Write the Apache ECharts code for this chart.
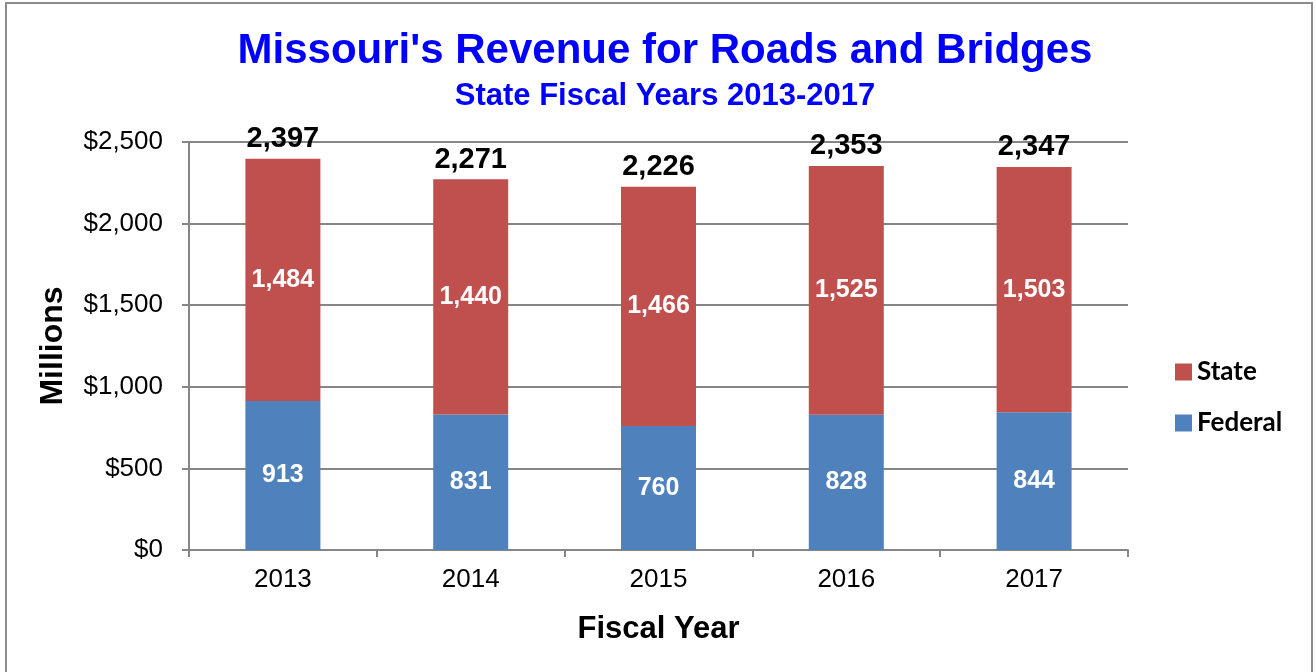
<!DOCTYPE html>
<html>
<head>
<meta charset="utf-8">
<script src="https://cdn.jsdelivr.net/npm/echarts@6/dist/echarts.min.js"></script>
<style>
  html, body { margin: 0; padding: 0; background: #fff; }
  #chart { width: 1316px; height: 672px; }
</style>
</head>
<body>
<div id="chart"></div>
<script>
const years = ['2013', '2014', '2015', '2016', '2017']
const federal = [913, 831, 760, 828, 844]
const state = [1484, 1440, 1466, 1525, 1503]
const totals = [2397, 2271, 2226, 2353, 2347]

const fmt = (val) => val.toLocaleString('en-US')

const chart = echarts.init(document.getElementById('chart'))

const innerLabel = {
  show: true,
  position: 'inside',
  color: '#fff',
  fontFamily: 'Liberation Sans',
  fontWeight: 'bold',
  fontSize: 25,
  formatter: (p) => fmt(p.value),
}

chart.setOption({
  animation: false,
  title: [
    {
      text: "Missouri's Revenue for Roads and Bridges",
      left: 660,
      textAlign: 'center',
      top: 25,
      textStyle: { fontFamily: 'Liberation Sans', fontWeight: 'bold', fontSize: 42, color: '#0000FF' },
    },
    {
      text: 'State Fiscal Years 2013-2017',
      left: 660,
      textAlign: 'center',
      top: 76,
      textStyle: { fontFamily: 'Liberation Sans', fontWeight: 'bold', fontSize: 31, color: '#0000FF' },
    },
  ],
  graphic: [
    {
      type: 'rect',
      shape: { x: 6, y: 3, width: 1306, height: 690 },
      style: { fill: 'none', stroke: '#8c8c8c', lineWidth: 2 },
      silent: true,
    },
  ],
  legend: {
    data: ['State', 'Federal'],
    orient: 'vertical',
    left: 1170,
    top: 354,
    itemWidth: 17,
    itemHeight: 17,
    itemGap: 25,
    icon: 'rect',
    textStyle: { fontFamily: 'Lato', fontWeight: 'bold', fontSize: 26, color: '#000' },
  },
  grid: { left: 189, right: 188, top: 142, bottom: 122 },
  xAxis: {
    type: 'category',
    data: years,
    name: 'Fiscal Year',
    nameLocation: 'middle',
    nameGap: 64,
    nameTextStyle: { fontFamily: 'Liberation Sans', fontWeight: 'bold', fontSize: 31, color: '#000' },
    axisLine: { lineStyle: { color: '#868686', width: 2 } },
    axisTick: { show: true, length: 7, lineStyle: { color: '#868686', width: 2 } },
    axisLabel: { fontFamily: 'Liberation Sans', fontSize: 26, color: '#000', margin: 17 },
  },
  yAxis: {
    type: 'value',
    min: 0,
    max: 2500,
    interval: 500,
    name: 'Millions',
    nameLocation: 'middle',
    nameGap: 120,
    nameTextStyle: { fontFamily: 'Liberation Sans', fontWeight: 'bold', fontSize: 32, color: '#000' },
    axisLine: { show: true, lineStyle: { color: '#868686', width: 2 } },
    axisTick: { show: true, length: 7, lineStyle: { color: '#868686', width: 2 } },
    splitLine: { lineStyle: { color: '#868686', width: 2 } },
    axisLabel: {
      fontFamily: 'Liberation Sans',
      fontSize: 26,
      color: '#000',
      margin: 26,
      formatter: (val) => '$' + fmt(val),
    },
  },
  series: [
    {
      name: 'Federal',
      type: 'bar',
      stack: 'rev',
      data: federal,
      barWidth: 75,
      itemStyle: { color: '#4F81BD' },
      label: innerLabel,
    },
    {
      name: 'State',
      type: 'bar',
      stack: 'rev',
      data: state,
      barWidth: 75,
      itemStyle: { color: '#C0504D' },
      label: innerLabel,
    },
    {
      name: 'Total',
      type: 'bar',
      data: totals,
      barWidth: 75,
      barGap: '-100%',
      z: 0,
      silent: true,
      itemStyle: { color: 'rgba(0,0,0,0)' },
      label: {
        show: true,
        position: 'top',
        distance: 5,
        color: '#000',
        fontFamily: 'Liberation Sans',
        fontWeight: 'bold',
        fontSize: 29,
        formatter: (p) => fmt(p.value),
      },
    },
  ],
})
</script>
</body>
</html>
